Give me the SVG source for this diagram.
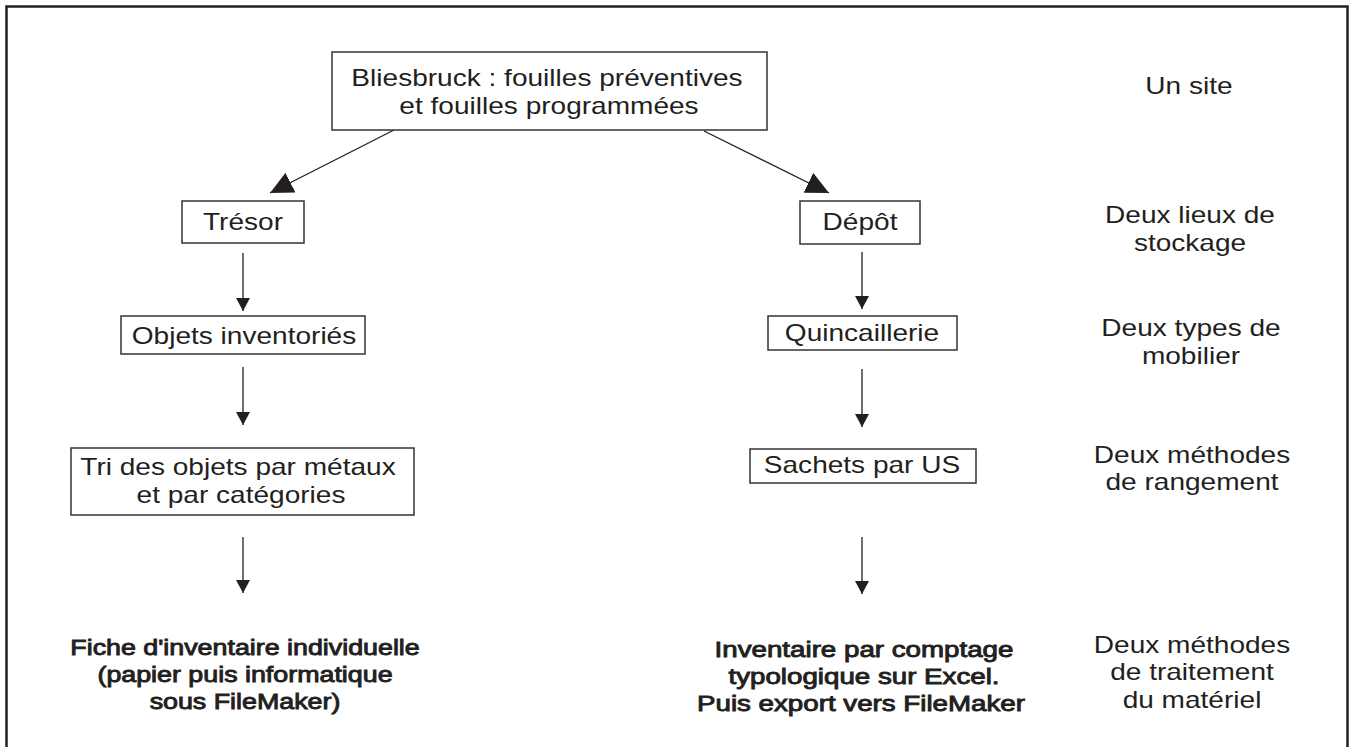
<svg xmlns="http://www.w3.org/2000/svg" width="1356" height="747" viewBox="0 0 1356 747">
<style>
.bx{fill:#fff;stroke:#333;stroke-width:1.5}
.t{font-family:"Liberation Sans",Arial,sans-serif;font-size:23px;fill:#231f20;text-anchor:middle}
.b{font-family:"Liberation Sans",Arial,sans-serif;font-size:22px;fill:#231f20;stroke:#231f20;stroke-width:0.9;text-anchor:middle}
.ln{stroke:#231f20;stroke-width:1.3;fill:none}
</style>
<defs>
<marker id="sm" markerUnits="userSpaceOnUse" viewBox="0 0 13 14" markerWidth="13" markerHeight="14" refX="13" refY="7" orient="auto"><path d="M0,0 L13,7 L0,14 z" fill="#231f20"/></marker>
<marker id="lg" markerUnits="userSpaceOnUse" viewBox="0 0 23 22" markerWidth="23" markerHeight="22" refX="23" refY="11" orient="auto"><path d="M0,0 L23,11 L0,22 z" fill="#231f20"/></marker>
</defs>
<rect x="0" y="0" width="1356" height="747" fill="#fff"/>
<rect id="frame" x="6.5" y="6.5" width="1341" height="800" fill="none" stroke="#231f20" stroke-width="2.5"/>
<g id="connectors">
<line class="ln" x1="394" y1="130" x2="270" y2="193" marker-end="url(#lg)"/>
<line class="ln" x1="704" y1="131" x2="829" y2="193" marker-end="url(#lg)"/>
<line class="ln" x1="243" y1="253" x2="243" y2="311" marker-end="url(#sm)"/>
<line class="ln" x1="243" y1="367" x2="243" y2="425" marker-end="url(#sm)"/>
<line class="ln" x1="243" y1="537" x2="243" y2="593" marker-end="url(#sm)"/>
<line class="ln" x1="862" y1="252" x2="862" y2="309" marker-end="url(#sm)"/>
<line class="ln" x1="862" y1="369" x2="862" y2="427" marker-end="url(#sm)"/>
<line class="ln" x1="862" y1="537" x2="862" y2="594" marker-end="url(#sm)"/>
</g>
<g id="site">
<rect class="bx" x="332" y="52" width="435" height="78"/>
<text class="t" transform="translate(547,86) scale(1.22,1)">Bliesbruck : fouilles préventives</text>
<text class="t" transform="translate(549,114) scale(1.22,1)">et fouilles programmées</text>
</g>
<g id="tresor">
<rect class="bx" x="182" y="201" width="122" height="42"/>
<text class="t" transform="translate(243,230) scale(1.22,1)">Trésor</text>
</g>
<g id="depot">
<rect class="bx" x="800" y="201" width="120" height="43"/>
<text class="t" transform="translate(860,230) scale(1.22,1)">Dépôt</text>
</g>
<g id="objets">
<rect class="bx" x="121" y="316" width="244" height="38"/>
<text class="t" transform="translate(244,344) scale(1.22,1)">Objets inventoriés</text>
</g>
<g id="quincaillerie">
<rect class="bx" x="768" y="316" width="189" height="34"/>
<text class="t" transform="translate(862,341) scale(1.22,1)">Quincaillerie</text>
</g>
<g id="tri">
<rect class="bx" x="71" y="448" width="343" height="67"/>
<text class="t" transform="translate(238,475) scale(1.22,1)">Tri des objets par métaux</text>
<text class="t" transform="translate(241,503) scale(1.22,1)">et par catégories</text>
</g>
<g id="sachets">
<rect class="bx" x="750" y="449" width="226" height="34"/>
<text class="t" transform="translate(862,473) scale(1.22,1)">Sachets par US</text>
</g>
<g id="fiche">
<text class="b" transform="translate(245,655) scale(1.22,1)">Fiche d'inventaire individuelle</text>
<text class="b" transform="translate(245,682) scale(1.22,1)">(papier puis informatique</text>
<text class="b" transform="translate(245,709) scale(1.22,1)">sous FileMaker)</text>
</g>
<g id="inventaire">
<text class="b" transform="translate(864,657) scale(1.26,1)">Inventaire par comptage</text>
<text class="b" transform="translate(864,684) scale(1.26,1)">typologique sur Excel.</text>
<text class="b" transform="translate(861,711) scale(1.26,1)">Puis export vers FileMaker</text>
</g>
<g id="labels">
<text class="t" transform="translate(1189,94) scale(1.22,1)">Un site</text>
<text class="t" transform="translate(1190,223) scale(1.22,1)">Deux lieux de</text>
<text class="t" transform="translate(1190,251) scale(1.22,1)">stockage</text>
<text class="t" transform="translate(1191,336) scale(1.22,1)">Deux types de</text>
<text class="t" transform="translate(1191,364) scale(1.22,1)">mobilier</text>
<text class="t" transform="translate(1192,463) scale(1.22,1)">Deux méthodes</text>
<text class="t" transform="translate(1192,490) scale(1.22,1)">de rangement</text>
<text class="t" transform="translate(1192,653) scale(1.22,1)">Deux méthodes</text>
<text class="t" transform="translate(1192,680) scale(1.22,1)">de traitement</text>
<text class="t" transform="translate(1192,708) scale(1.22,1)">du matériel</text>
</g>
</svg>
